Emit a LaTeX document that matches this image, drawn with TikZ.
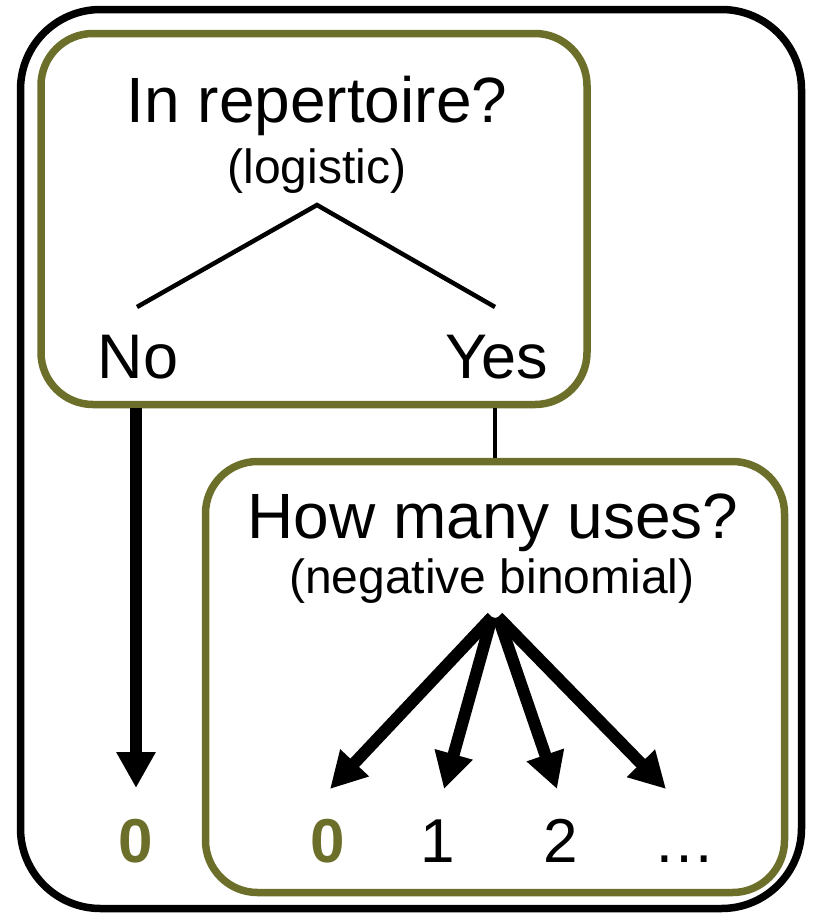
\documentclass[tikz,border=0pt]{standalone}
\usepackage{fontspec}
\setmainfont{Liberation Sans}
\usetikzlibrary{arrows.meta}
\definecolor{modelolive}{RGB}{108,111,41}
\tikzset{
    frame box/.style = {draw, line width=7.5pt, rounded corners=80pt},
    model box/.style = {draw=modelolive, line width=7.5pt, rounded corners=52pt},
    tree edge/.style = {draw, line width=4.5pt},
    count arrow/.style = {draw, line width=12pt, -{Triangle[length=36pt, width=37pt]}},
}
\tikzset{
    question/.style = {anchor=base, inner sep=0pt, font=\fontsize{64}{66}\selectfont},
    answer/.style = {anchor=base, inner sep=0pt, font=\fontsize{63}{65}\selectfont},
    family/.style = {anchor=base, inner sep=0pt, font=\fontsize{48}{50}\selectfont},
    count/.style = {anchor=base, inner sep=0pt, font=\fontsize{62}{64}\selectfont},
    zero/.style = {count, text=modelolive, font=\fontsize{62}{64}\selectfont\bfseries},
}

\begin{document}
\begin{tikzpicture}[x=1pt, y=-1pt]
				\useasboundingbox (0, 0) rectangle (813, 914);
				\node[frame box, minimum width=781pt, minimum height=899pt] (frame) at (411, 459) {};
				\node[model box, minimum width=546pt, minimum height=371pt] (logit) at (314, 219) {};
				\node[model box, minimum width=579pt, minimum height=431pt] (counts) at (495, 677) {};

				\node[question] (inrep) at (317, 122) {In repertoire?};
				\node[family] (logistic) at (317, 183) {(logistic)};
				\node[answer] (no) at (138, 378) {No};
				\node[answer] (yes) at (497, 378) {Yes};
				\node[question] (howmany) at (493, 538) {How many uses?};
				\node[family] (negbin) at (492, 593) {(negative binomial)};

				\node[zero] (zeroNo) at (136, 862) {0};
				\node[zero] (zeroYes) at (328, 862) {0};
				\node[count] (one) at (438, 862) {1};
				\node[count] (two) at (561, 862) {2};
				\node[count] (more) at (684, 862) {…};

				\coordinate (split) at (317, 205);
				\coordinate (noleg) at (137, 307);
				\coordinate (yesleg) at (495, 307);
				\coordinate (noTip) at (136, 788);
				\coordinate (forkL) at (492, 617);
				\coordinate (forkR) at (498, 617);
				\coordinate (tipZero) at (330, 789);
				\coordinate (tipOne) at (444, 789);
				\coordinate (tipTwo) at (557, 789);
				\coordinate (tipMore) at (666, 789);

				\draw[tree edge] (noleg) -- (split) -- (yesleg);
				\draw[tree edge] (logit.south -| yesleg) -- (counts.north -| yesleg);
				\draw[count arrow] (logit.south -| zeroNo) -- (noTip);
				\draw[count arrow] (forkL) -- (tipZero);
				\draw[count arrow] (forkL) -- (tipOne);
				\draw[count arrow] (forkR) -- (tipTwo);
				\draw[count arrow] (forkR) -- (tipMore);
			\end{tikzpicture}
\end{document}
